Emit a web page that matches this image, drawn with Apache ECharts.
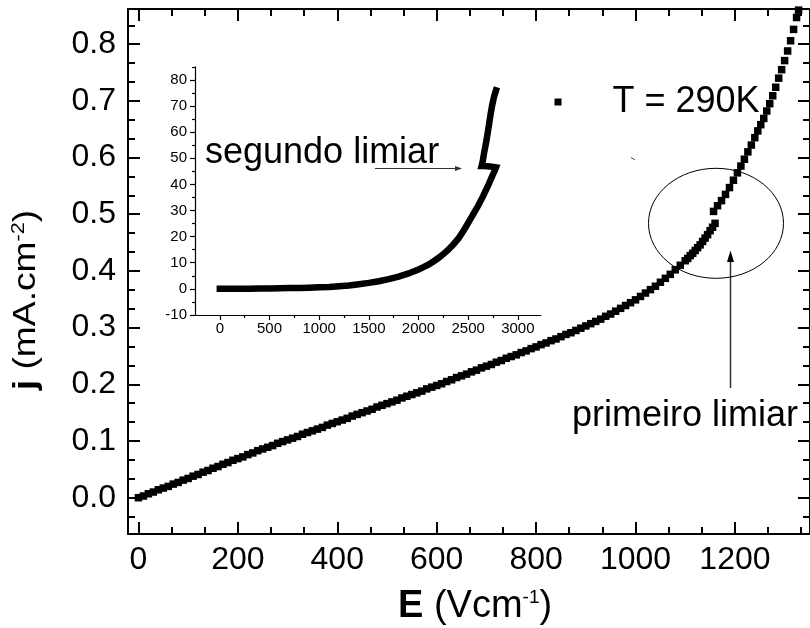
<!DOCTYPE html>
<html>
<head>
<meta charset="utf-8">
<script src="https://cdn.jsdelivr.net/npm/echarts@6/dist/echarts.min.js"></script>
<style>
  html, body { margin: 0; padding: 0; background: #fff; }
  #chart { width: 810px; height: 628px; }
</style>
</head>
<body>
<div id="chart"></div>
<script>
// Main curve: current density j (mA.cm^-2) against field E (V/cm) at 290 K
const fieldE = [
  0, 10, 20, 30, 40, 50, 60, 70, 80, 90,
  100, 110, 120, 130, 140, 150, 160, 170, 180, 190,
  200, 210, 220, 230, 240, 250, 260, 270, 280, 290,
  300, 310, 320, 330, 340, 350, 360, 370, 380, 390,
  400, 410, 420, 430, 440, 450, 460, 470, 480, 490,
  500, 510, 520, 530, 540, 550, 560, 570, 580, 590,
  600, 610, 620, 630, 640, 650, 660, 670, 680, 690,
  700, 710, 720, 730, 740, 750, 760, 770, 780, 790,
  800, 810, 820, 830, 840, 850, 860, 870, 880, 890,
  900, 910, 920, 930, 940, 950, 960, 970, 980, 990,
  1000, 1010, 1020, 1030, 1040, 1050, 1060, 1070, 1080, 1090,
  1100, 1105, 1110, 1115, 1120, 1125, 1130, 1135, 1140, 1145,
  1150, 1155, 1160,
  1157, 1165, 1173, 1181, 1189, 1197, 1205, 1212, 1219, 1226,
  1233, 1240, 1246, 1252, 1258, 1264, 1270, 1276, 1282, 1288,
  1294, 1300, 1306, 1312, 1318, 1324, 1328
];
const currentJ = [
  0.000, 0.003, 0.007, 0.010, 0.014, 0.017, 0.020, 0.024, 0.027, 0.031,
  0.034, 0.038, 0.041, 0.045, 0.048, 0.052, 0.055, 0.059, 0.062, 0.066,
  0.069, 0.072, 0.076, 0.079, 0.083, 0.086, 0.089, 0.092, 0.096, 0.099,
  0.102, 0.105, 0.108, 0.112, 0.115, 0.118, 0.121, 0.124, 0.128, 0.131,
  0.134, 0.137, 0.140, 0.144, 0.147, 0.150, 0.153, 0.156, 0.160, 0.163,
  0.166, 0.169, 0.172, 0.176, 0.179, 0.182, 0.185, 0.188, 0.192, 0.195,
  0.198, 0.201, 0.205, 0.208, 0.212, 0.215, 0.218, 0.222, 0.225, 0.229,
  0.232, 0.235, 0.239, 0.242, 0.246, 0.249, 0.252, 0.256, 0.259, 0.263,
  0.266, 0.270, 0.273, 0.277, 0.280, 0.284, 0.288, 0.291, 0.295, 0.299,
  0.303, 0.307, 0.311, 0.315, 0.320, 0.324, 0.329, 0.334, 0.339, 0.344,
  0.349, 0.355, 0.361, 0.367, 0.373, 0.380, 0.387, 0.394, 0.402, 0.410,
  0.418, 0.422, 0.427, 0.431, 0.436, 0.441, 0.446, 0.452, 0.458, 0.464,
  0.471, 0.477, 0.484,
  0.505, 0.515, 0.524, 0.535, 0.547, 0.560, 0.573, 0.585, 0.597, 0.610,
  0.622, 0.635, 0.647, 0.658, 0.669, 0.682, 0.695, 0.709, 0.724, 0.740,
  0.755, 0.771, 0.788, 0.806, 0.826, 0.847, 0.860
];

// Inset: full sweep up to the second threshold
const insetE = [
  0, 100, 200, 300, 400, 500, 600, 700, 800, 900,
  1000, 1100, 1200, 1300, 1400, 1500, 1600, 1700, 1800, 1900,
  2000, 2050, 2100, 2150, 2200, 2250, 2300, 2350, 2400, 2450,
  2500, 2550, 2600, 2650, 2700, 2740, 2770, 2780,
  2720, 2660, 2635,
  2645, 2660, 2680, 2700, 2720, 2740, 2760, 2780
];
const insetJ = [
  0, 0, 0, 0.05, 0.1, 0.15, 0.2, 0.3, 0.35, 0.45,
  0.6, 0.75, 1.0, 1.3, 1.8, 2.3, 2.9, 3.7, 4.7, 5.9,
  7.4, 8.3, 9.3, 10.5, 11.8, 13.3, 15.0, 17.0, 19.2, 22.0,
  25.3, 28.5, 31.8, 35.5, 39.5, 43.0, 45.5, 46.5,
  46.8, 47.0, 47.0,
  48.5, 52, 56, 60.5, 65.5, 70, 73.5, 76
];

// Tick labels
const mainXTicks = [0, 200, 400, 600, 800, 1000, 1200];
const mainYTicks = [0.0, 0.1, 0.2, 0.3, 0.4, 0.5, 0.6, 0.7, 0.8];
const insetXTicks = [0, 500, 1000, 1500, 2000, 2500, 3000];
const insetYTicks = [-10, 0, 10, 20, 30, 40, 50, 60, 70, 80];

const FONT = '"Liberation Sans", Arial, Helvetica, sans-serif';

// Minor ticks: two between each pair of major ticks on the main frame
function thirds(major, lo, hi) {
  const step = major[1] - major[0];
  const out = [];
  for (let k = -3; k <= major.length * 3 + 3; k++) {
    if (k % 3 === 0) continue;
    const v = +(major[0] + k * step / 3).toFixed(6);
    if (v > lo && v < hi) out.push(v);
  }
  return out;
}
// One minor tick halfway between major ticks on the inset
function halves(major, lo, hi) {
  const step = major[1] - major[0];
  const out = [];
  for (let k = -1; k <= major.length + 1; k++) {
    const v = major[0] + (k + 0.5) * step;
    if (v > lo && v <= hi) out.push(v);
  }
  return out;
}

const X_MIN = -21, X_MAX = 1351;
const Y_MIN = -0.064, Y_MAX = 0.862;
const IX_MIN = -250, IX_MAX = 3230;
const IY_MIN = -10, IY_MAX = 85;

function frameAxis(kind, position, ticks, len, withLabels, withLine) {
  const isX = kind === 'x';
  return {
    type: 'value',
    gridIndex: 0,
    position: position,
    min: isX ? X_MIN : Y_MIN,
    max: isX ? X_MAX : Y_MAX,
    splitLine: { show: false },
    axisLine: { show: withLine, onZero: false, lineStyle: { color: '#000', width: 2 } },
    axisTick: {
      show: true, inside: true, length: len,
      customValues: ticks,
      lineStyle: { color: '#000', width: 2 }
    },
    axisLabel: withLabels ? {
      show: true,
      customValues: ticks,
      fontSize: 32,
      fontFamily: FONT,
      color: '#000',
      margin: isX ? 10 : 12,
      formatter: isX ? (v => String(Math.round(v))) : (v => v.toFixed(1))
    } : { show: false }
  };
}

function insetAxis(kind, ticks, len, withLabels, withLine) {
  const isX = kind === 'x';
  return {
    type: 'value',
    gridIndex: 1,
    position: isX ? 'bottom' : 'left',
    min: isX ? IX_MIN : IY_MIN,
    max: isX ? IX_MAX : IY_MAX,
    splitLine: { show: false },
    axisLine: { show: withLine, onZero: false, lineStyle: { color: '#000', width: 1.2 } },
    axisTick: {
      show: true, inside: false, length: len,
      customValues: ticks,
      lineStyle: { color: '#000', width: 1.2 }
    },
    axisLabel: withLabels ? {
      show: true,
      customValues: ticks,
      fontSize: 15,
      fontFamily: FONT,
      color: '#000',
      margin: isX ? 6 : 8,
      formatter: v => String(Math.round(v))
    } : { show: false }
  };
}

const mainPoints = fieldE.map((e, i) => [e, currentJ[i]]);
const insetPoints = insetE.map((e, i) => [e, insetJ[i]]);

const chart = echarts.init(document.getElementById('chart'), null, { renderer: 'canvas' });

const option = {
  animation: false,
  backgroundColor: '#fff',
  grid: [
    { left: 128, top: 9, width: 690, height: 525 },
    { left: 195, top: 66.8, width: 345.7, height: 248.2 }
  ],
  xAxis: [
    frameAxis('x', 'bottom', mainXTicks, 12, true, true),
    frameAxis('x', 'bottom', thirds(mainXTicks, X_MIN, X_MAX), 7, false, false),
    frameAxis('x', 'top', mainXTicks, 12, false, true),
    frameAxis('x', 'top', thirds(mainXTicks, X_MIN, X_MAX), 7, false, false),
    insetAxis('x', insetXTicks, 5, true, true),
    insetAxis('x', halves(insetXTicks, IX_MIN, IX_MAX), 3, false, false)
  ],
  yAxis: [
    frameAxis('y', 'left', mainYTicks, 12, true, true),
    frameAxis('y', 'left', thirds(mainYTicks, Y_MIN, Y_MAX), 7, false, false),
    frameAxis('y', 'right', mainYTicks, 12, false, true),
    frameAxis('y', 'right', thirds(mainYTicks, Y_MIN, Y_MAX), 7, false, false),
    insetAxis('y', insetYTicks, 5, true, true),
    insetAxis('y', halves(insetYTicks, IY_MIN, IY_MAX), 3, false, false)
  ],
  legend: {
    data: ['T = 290K'],
    left: 554.5,
    top: 84,
    padding: 0,
    icon: 'rect',
    itemWidth: 7,
    itemHeight: 7,
    selectedMode: false,
    textStyle: {
      fontSize: 36,
      lineHeight: 36,
      fontFamily: FONT,
      color: '#000',
      padding: [0, 0, 0, 46]
    }
  },
  series: [
    {
      name: 'T = 290K',
      type: 'scatter',
      xAxisIndex: 0,
      yAxisIndex: 0,
      symbol: 'rect',
      symbolSize: 7.5,
      itemStyle: { color: '#000', opacity: 1 },
      data: mainPoints,
      z: 3
    },
    {
      name: 'inset',
      type: 'line',
      xAxisIndex: 4,
      yAxisIndex: 4,
      showSymbol: false,
      symbol: 'none',
      lineStyle: { color: '#000', width: 6.5, cap: 'square', join: 'miter' },
      data: insetPoints,
      z: 3
    }
  ],
  graphic: [
    // axis titles
    {
      type: 'text', x: 398, y: 588, z: 10,
      style: {
        text: '{b|E}{n| (Vcm}{s|-1}{n|)}',
        align: 'left', verticalAlign: 'top',
        rich: {
          b: { fontSize: 38, lineHeight: 38, fontWeight: 'bold', fontFamily: FONT, fill: '#000' },
          n: { fontSize: 38, lineHeight: 38, fontFamily: FONT, fill: '#000' },
          s: { fontSize: 19, lineHeight: 38, fontFamily: FONT, fill: '#000', verticalAlign: 'top' }
        }
      }
    },
    {
      type: 'text', x: 26, y: 300, rotation: Math.PI / 2, scaleX: 1.2, z: 10,
      style: {
        text: '{b|j}{n| (mA.cm}{s|-2}{n|)}',
        align: 'center', verticalAlign: 'middle',
        rich: {
          b: { fontSize: 31, lineHeight: 31, fontWeight: 'bold', fontFamily: FONT, fill: '#000' },
          n: { fontSize: 31, lineHeight: 31, fontFamily: FONT, fill: '#000' },
          s: { fontSize: 18, lineHeight: 31, fontFamily: FONT, fill: '#000', verticalAlign: 'top' }
        }
      }
    },
    // annotations
    {
      type: 'text', x: 205, y: 153, z: 10,
      style: { text: 'segundo limiar', fontSize: 36, fontFamily: FONT, fill: '#000',
               align: 'left', verticalAlign: 'middle' }
    },
    {
      type: 'line', z: 11,
      shape: { x1: 375, y1: 168.5, x2: 456, y2: 168.5 },
      style: { stroke: '#333', lineWidth: 1 }
    },
    {
      type: 'polygon', z: 11,
      shape: { points: [[462, 168.5], [455, 166], [455, 171]] },
      style: { fill: '#333' }
    },
    {
      type: 'text', x: 572, y: 416, z: 10,
      style: { text: 'primeiro limiar', fontSize: 36, fontFamily: FONT, fill: '#000',
               align: 'left', verticalAlign: 'middle' }
    },
    {
      type: 'line', z: 11,
      shape: { x1: 730.5, y1: 388, x2: 730.5, y2: 260 },
      style: { stroke: '#333', lineWidth: 1.5 }
    },
    {
      type: 'polygon', z: 11,
      shape: { points: [[730.5, 250.5], [727, 262], [734, 262]] },
      style: { fill: '#000' }
    },
    {
      type: 'ellipse', z: 11,
      shape: { cx: 716, cy: 223.3, rx: 67.5, ry: 55 },
      style: { fill: 'none', stroke: '#000', lineWidth: 1 }
    },
    {
      type: 'line', z: 11,
      shape: { x1: 631, y1: 157.5, x2: 635, y2: 160 },
      style: { stroke: '#444', lineWidth: 1 }
    }
  ]
};

chart.setOption(option);
</script>
</body>
</html>
